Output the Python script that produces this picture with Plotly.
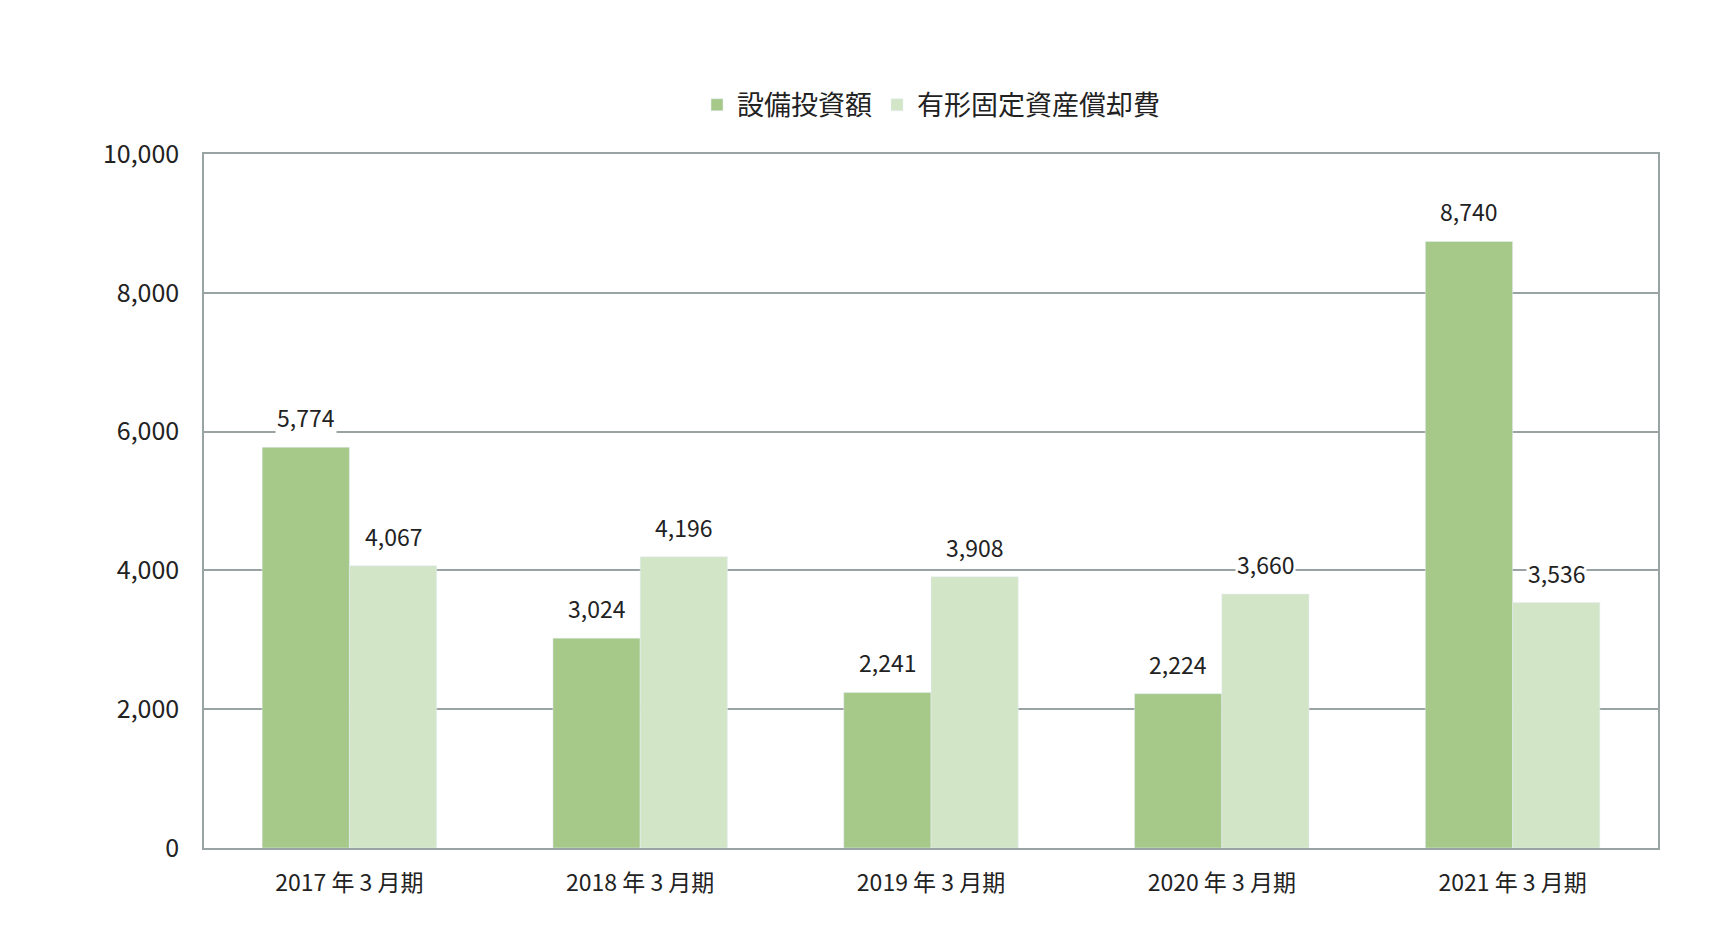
import plotly.graph_objects as go

categories = ["2017 年 3 月期", "2018 年 3 月期", "2019 年 3 月期", "2020 年 3 月期", "2021 年 3 月期"]
capex = [5774, 3024, 2241, 2224, 8740]
depreciation = [4067, 4196, 3908, 3660, 3536]
series_names = ["設備投資額", "有形固定資産償却費"]
colors = ["#a6c98a", "#d3e5c7"]

font = "Noto Sans CJK JP"
fig = go.Figure()
for name, vals, col in zip(series_names, [capex, depreciation], colors):
    fig.add_bar(x=categories, y=vals, name=name, marker_color=col, width=0.3)

for i, (a, b) in enumerate(zip(capex, depreciation)):
    for v, off in ((a, -0.15), (b, 0.15)):
        fig.add_annotation(x=i + off, y=v, text=f"{v:,}", showarrow=False, yshift=30,
                           bgcolor="white", font=dict(size=23, color="#222", family=font))

fig.update_layout(
    width=1732, height=946, plot_bgcolor="white", paper_bgcolor="white",
    margin=dict(l=196, r=82, t=146, b=106, autoexpand=False),
    bargap=0.4, barmode="group", bargroupgap=0,
    font=dict(family=font, size=23, color="#222"),
    legend=dict(orientation="h", x=0.5, xanchor="center", y=1.035, yanchor="bottom",
                font=dict(size=27), itemwidth=30),
    xaxis=dict(showline=True, linecolor="#9aa3a3", mirror=True, linewidth=1.5,
               tickfont=dict(size=23), ticks="", ticklabelstandoff=14),
    yaxis=dict(range=[0, 10000], dtick=2000, tickformat=",", showgrid=True,
               gridcolor="#9aa3a3", gridwidth=1.5, showline=True, linecolor="#9aa3a3",
               mirror=True, linewidth=1.5, zeroline=False, ticks="", ticklabelstandoff=18,
               tickfont=dict(size=25)),
)
fig.write_html("out.html")
